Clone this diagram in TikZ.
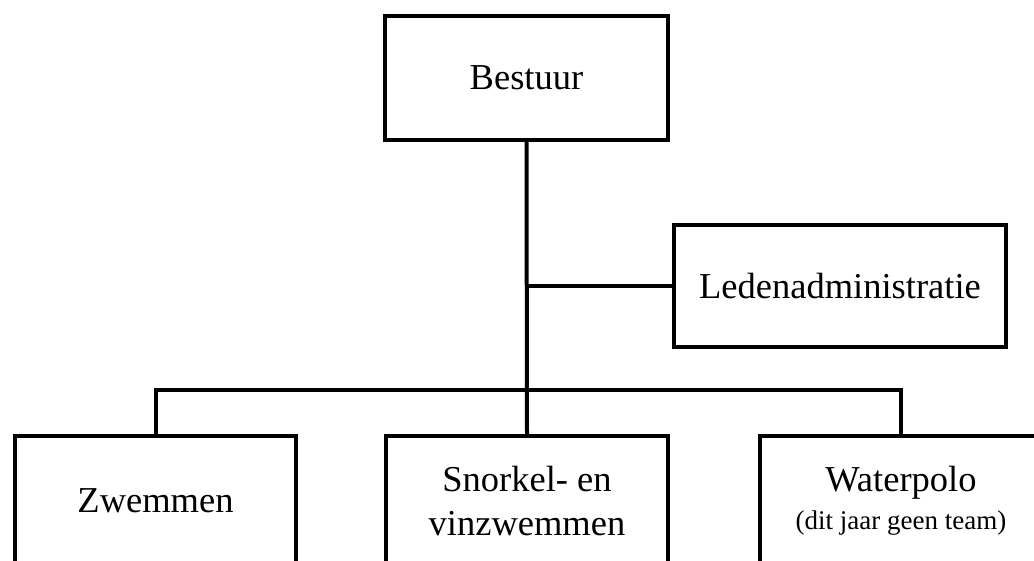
\documentclass[tikz,border=0pt]{standalone}
\usepackage{fontspec}
\setmainfont{Liberation Serif}
\usetikzlibrary{shadows}
\begin{document}
\begin{tikzpicture}[x=1pt,y=-1pt,
  orgbox/.style={draw=black, line width=4pt, fill=white, align=center,
    inner sep=0pt, font=\fontsize{36.5}{44}\selectfont,
    drop shadow={opacity=0.25, shadow xshift=1pt, shadow yshift=-2pt}},
  link/.style={line width=4pt, line join=miter}]
\useasboundingbox (0,0) rectangle (1034,560);
\clip (0,0) rectangle (1034,560);
\node[orgbox, minimum width=283pt, minimum height=124pt] (bestuur) at (526.5,78) {Bestuur};
\node[orgbox, minimum width=332pt, minimum height=122pt] (leden) at (840,286) {Ledenadministratie};
\node[orgbox, minimum width=281pt, minimum height=130pt] (zwem) at (155.5,501) {Zwemmen};
\node[orgbox, minimum width=282pt, minimum height=130pt] (snork) at (527,501) {Snorkel- en\\vinzwemmen};
\node[orgbox, minimum width=282pt, minimum height=130pt] (water) at (901,501) {Waterpolo\\[-6pt]{\fontsize{27}{30}\selectfont (dit jaar geen team)}};
\coordinate (bus) at (527,390);
\coordinate (tap) at (527,286);
\draw[link] (bestuur.south) -- (snork.north);
\draw[link] (tap) -- (leden.west);
\draw[link] (zwem.north) |- (bus) -| (water.north);
\end{tikzpicture}
\end{document}
